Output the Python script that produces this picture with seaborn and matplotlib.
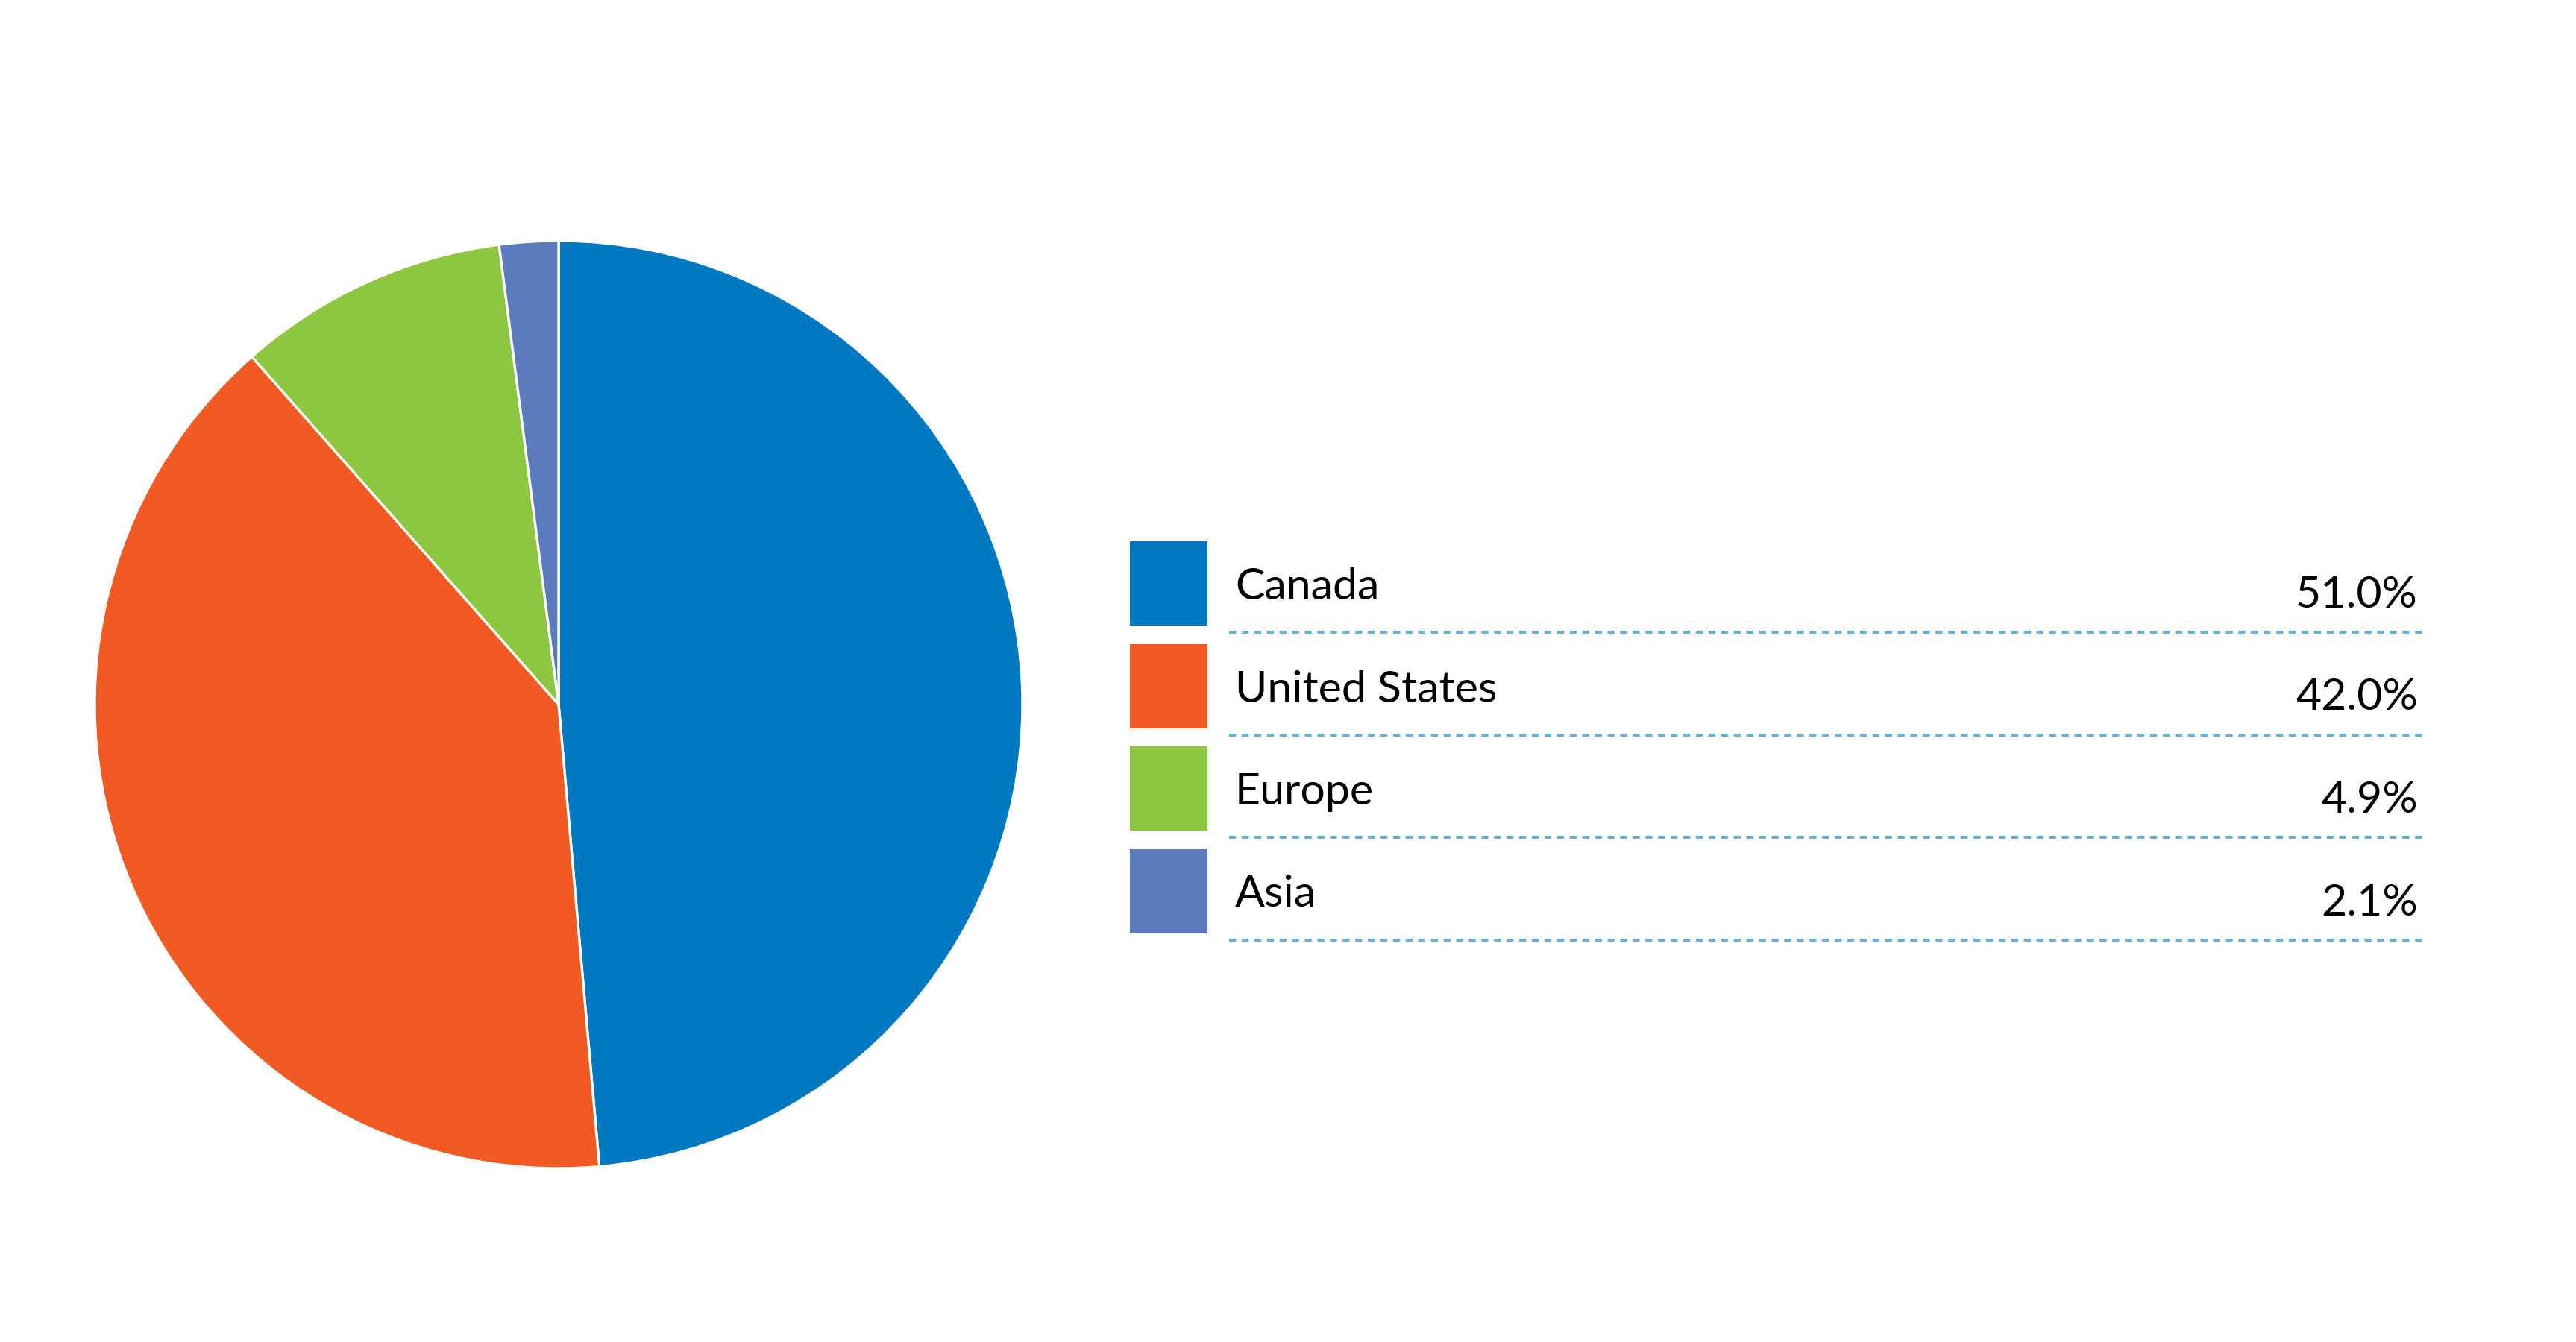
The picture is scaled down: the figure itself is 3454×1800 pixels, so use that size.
import matplotlib
matplotlib.use("Agg")
import matplotlib.pyplot as plt
from matplotlib import font_manager
from matplotlib.patches import Rectangle
import seaborn as sns

# regions, shown percentages and the wedge shares as drawn in the picture
regions = ["Canada", "United States", "Europe", "Asia"]
pct_labels = ["51.0%", "42.0%", "4.9%", "2.1%"]
wedge_share = [48.6, 39.9, 9.45, 2.05]
colors = ["#0079C1", "#F15A22", "#8DC63F", "#5B7BBE"]

sns.set_theme(style="white")

# pick a narrow-ish sans if there is one
installed = {f.name for f in font_manager.fontManager.ttflist}
font_pick = "DejaVu Sans"
for name in ["Liberation Sans Narrow", "Lato", "Roboto", "DejaVu Sans"]:
    if name in installed:
        font_pick = name
        break
plt.rcParams["font.family"] = [font_pick, "DejaVu Sans"]

W, H = 3454, 1800
fig = plt.figure(figsize=(W / 100, H / 100), dpi=100)
fig.patch.set_facecolor("white")

# pie
cx, cy, r = 749, 945, 622
ax = fig.add_axes([(cx - r) / W, (H - cy - r) / H, 2 * r / W, 2 * r / H])
ax.pie(wedge_share, colors=colors, startangle=90, counterclock=False,
       wedgeprops=dict(edgecolor="white", linewidth=2.4))
ax.set_xlim(-1, 1)
ax.set_ylim(-1, 1)
ax.axis("off")

# legend rows, drawn in pixel space
lg = fig.add_axes([0, 0, 1, 1])
lg.set_xlim(0, W)
lg.set_ylim(H, 0)
lg.axis("off")

row_top = 726
pitch = 137.5
for i, (name, pct, col) in enumerate(zip(regions, pct_labels, colors)):
    top = row_top + i * pitch
    lg.add_patch(Rectangle((1515, top), 104, 113, facecolor=col, edgecolor="none"))
    lg.text(1656, top + 78, name, fontsize=42.5, color="black", va="baseline", ha="left")
    lg.text(3242, top + 89, pct, fontsize=42.5, color="black", va="baseline", ha="right")
    lg.plot([1648, 3250], [top + 122, top + 122], color="#64B0DF", linewidth=2.9,
            dashes=(2.3, 1.9), solid_capstyle="butt", dash_capstyle="butt")

fig.savefig("out.png", dpi=100, facecolor="white")
